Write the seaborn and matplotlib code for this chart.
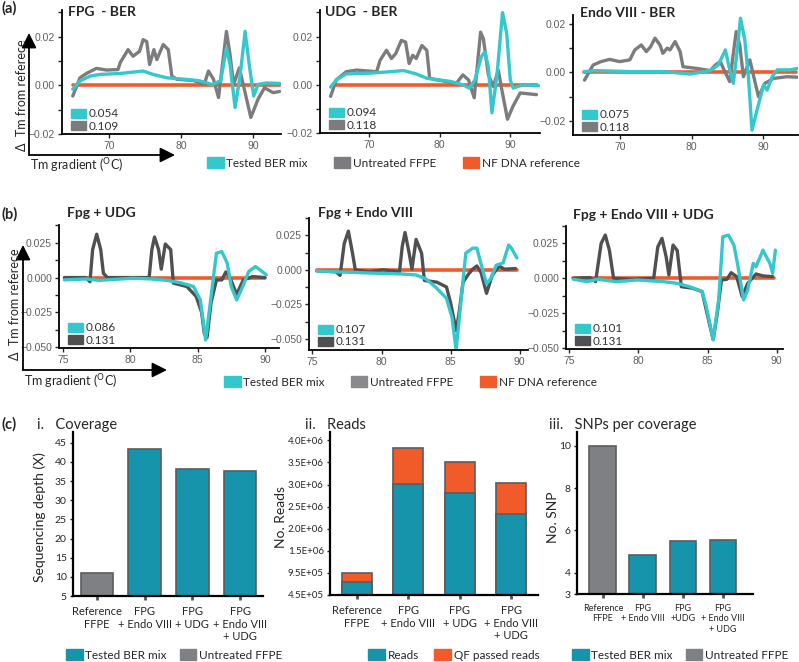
import matplotlib
matplotlib.use("Agg")
from matplotlib import pyplot as plt
from matplotlib.patches import Patch, FancyArrowPatch
import seaborn as sns

# ---- (a) single enzyme melt curves: delta Tm from NF reference ----
fpg_ffpe_x = [64.9, 65.9, 66.8, 68.2, 69.6, 71.2, 71.5, 72.6, 73.3, 74.2, 74.7, 75.2, 75.6, 76.2, 76.6, 77.5, 78.2, 78.7,
              79.4, 81.7, 82.6, 83.2, 83.8, 84.5, 85.2, 86.3, 86.8, 87.3, 88.1, 88.9, 89.7, 90.7, 91.6, 92.8, 93.7]
fpg_ffpe_y = [-0.0044, 0.0031, 0.0049, 0.0070, 0.0063, 0.0065, 0.0093, 0.0147, 0.0120, 0.0140, 0.0188, 0.0180, 0.0086,
              0.0147, 0.0106, 0.0168, 0.0147, 0.0038, 0.0025, 0.0020, 0.0011, 0.0004, 0.0059, 0.0025, -0.0050, 0.0222,
              0.0127, 0.0004, 0.0072, -0.0030, -0.0132, -0.0057, -0.0010, -0.0030, -0.0025]
fpg_ber_x = [64.9, 65.9, 67.3, 68.7, 71.5, 74.7, 76.1, 78.0, 80.6, 82.5, 84.3, 85.5, 86.3, 86.8, 87.5, 88.2, 88.9, 89.5,
             90.1, 90.7, 91.9, 93.7]
fpg_ber_y = [-0.0016, 0.0018, 0.0038, 0.0045, 0.0049, 0.0059, 0.0045, 0.0031, 0.0025, 0.0019, 0.0004, 0.0019, 0.0154,
             0.0086, -0.0091, 0.0038, 0.0222, 0.0079, -0.0044, 0.0004, 0.0010, 0.0008]

udg_ffpe_x = [64.6, 65.4, 66.8, 68.3, 71.1, 71.6, 72.5, 73.2, 73.8, 74.6, 75.2, 75.7, 76.2, 76.7, 77.5, 78.2, 78.6, 79.6,
              82.4, 83.3, 84.1, 84.9, 85.8, 86.2, 86.9, 87.6, 88.3, 88.8, 89.6, 90.4, 91.4, 93.7]
udg_ffpe_y = [-0.0048, 0.0020, 0.0054, 0.0061, 0.0054, 0.0102, 0.0143, 0.0109, 0.0129, 0.0184, 0.0177, 0.0088, 0.0122,
              0.0109, 0.0163, 0.0143, 0.0027, 0.0020, 0.0007, 0.0041, 0.0020, -0.0054, 0.0218, 0.0190, 0.0041, -0.0007,
              0.0061, -0.0020, -0.0143, -0.0088, -0.0034, -0.0041]
udg_ber_x = [64.6, 65.4, 66.8, 70.1, 73.0, 74.9, 76.7, 78.2, 81.5, 83.3, 84.2, 85.0, 85.9, 86.4, 86.9, 87.4, 88.1, 88.9,
             89.5, 90.0, 90.4, 91.8, 94.0]
udg_ber_y = [-0.0010, 0.0020, 0.0045, 0.0048, 0.0054, 0.0059, 0.0045, 0.0027, 0.0014, 0.0000, -0.0014, 0.0020, 0.0116,
             0.0136, 0.0075, -0.0116, 0.0034, 0.0299, 0.0211, 0.0020, -0.0014, 0.0000, -0.0004]

endo_ffpe_x = [65.1, 66.3, 67.4, 68.6, 70.0, 71.4, 72.1, 73.0, 73.7, 74.3, 74.9, 75.6, 76.0, 76.6, 77.0, 77.7, 78.4,
               78.8, 80.7, 82.6, 83.3, 84.0, 84.5, 85.3, 86.2, 86.7, 87.2, 88.1, 89.3, 90.2, 91.4, 93.3, 94.7]
endo_ffpe_y = [-0.0032, 0.0030, 0.0044, 0.0053, 0.0044, 0.0051, 0.0092, 0.0112, 0.0085, 0.0105, 0.0140, 0.0112, 0.0078,
               0.0099, 0.0092, 0.0126, 0.0085, 0.0023, 0.0016, 0.0007, 0.0030, 0.0044, 0.0010, -0.0038, 0.0167, 0.0112,
               -0.0018, 0.0051, -0.0100, -0.0045, -0.0025, -0.0018, -0.0020]
endo_ber_x = [65.1, 66.7, 71.4, 76.0, 79.8, 82.6, 83.7, 84.7, 85.2, 85.8, 86.3, 86.8, 87.4, 87.9, 88.4, 89.1, 90.0, 90.5,
              91.2, 91.9, 93.7, 94.7]
endo_ber_y = [0.0003, 0.0007, 0.0003, 0.0003, -0.0007, 0.0007, 0.0030, 0.0092, 0.0023, -0.0045, 0.0078, 0.0222, 0.0133,
              -0.0018, -0.0237, -0.0155, -0.0052, -0.0073, -0.0018, 0.0010, 0.0010, 0.0016]

# ---- (b) enzyme combinations ----
fu_ffpe_x = [75.1, 76.7, 77.0, 77.2, 77.5, 77.8, 78.0, 78.3, 80.2, 81.4, 81.6, 81.8, 82.1, 82.3, 82.6, 83.0, 83.2, 84.2,
             84.9, 85.3, 85.5, 85.7, 86.0, 86.4, 86.8, 87.1, 87.4, 87.9, 88.4, 89.1, 90.0]
fu_ffpe_y = [0.0, 0.0, -0.003, 0.020, 0.031, 0.020, 0.003, 0.0, 0.0, 0.0, 0.020, 0.029, 0.020, 0.006, 0.024, 0.020,
             -0.004, -0.0064, -0.0136, -0.025, -0.040, -0.043, -0.018, -0.0017, -0.0017, 0.004, 0.0, -0.012, -0.0017,
             0.0007, 0.0]
fu_ber_x = [75.1, 76.7, 77.7, 80.2, 81.5, 82.7, 83.7, 84.7, 85.2, 85.6, 86.0, 86.4, 86.8, 87.2, 87.5, 87.9, 88.3, 88.8,
            89.3, 89.8, 90.1]
fu_ber_y = [-0.0017, -0.0010, -0.0020, -0.0005, -0.0010, -0.0020, -0.0036, -0.0064, -0.0160, -0.0447, -0.0136, 0.0174,
            0.0186, 0.0103, -0.0064, -0.0160, -0.0076, 0.0043, 0.0079, 0.0043, 0.0020]

fe_ffpe_x = [75.3, 76.7, 77.0, 77.3, 77.6, 77.9, 78.1, 79.1, 80.1, 81.3, 81.5, 81.7, 82.0, 82.2, 82.5, 82.9, 83.1, 84.0,
             84.7, 85.0, 85.4, 85.6, 85.9, 86.3, 86.6, 86.9, 87.2, 87.6, 88.0, 88.5, 88.9, 89.7]
fe_ffpe_y = [-0.0007, -0.0014, -0.0040, 0.0190, 0.0280, 0.0120, 0.0000, -0.0014, 0.0000, -0.0014, 0.0170, 0.0270, 0.0120,
             0.0005, 0.0220, 0.0120, -0.0077, -0.0089, -0.0124, -0.0240, -0.0440, -0.0320, -0.0089, -0.0030, 0.0005,
             0.0028, -0.0019, -0.0170, -0.0042, 0.0028, 0.0005, 0.0009]
fe_ber_x = [75.3, 76.7, 79.1, 81.5, 82.5, 83.2, 83.9, 84.7, 85.1, 85.4, 85.7, 86.1, 86.6, 86.9, 87.3, 87.6, 87.9, 88.3,
            88.8, 89.2, 89.4, 89.8]
fe_ber_y = [-0.0007, -0.0014, -0.0023, -0.0030, -0.0037, -0.0065, -0.0124, -0.0206, -0.0346, -0.0580, -0.0276, 0.0121,
            0.0157, 0.0157, 0.0005, -0.0100, -0.0065, 0.0033, 0.0051, 0.0180, 0.0157, 0.0086]

feu_ffpe_x = [75.3, 76.5, 76.9, 77.3, 77.6, 77.9, 78.2, 79.4, 81.1, 81.4, 81.7, 82.0, 82.2, 82.5, 82.8, 83.1, 83.9, 84.6,
              84.9, 85.4, 85.7, 86.0, 86.4, 86.7, 87.1, 87.5, 87.9, 88.5, 89.0, 89.7]
feu_ffpe_y = [0.0000, 0.0005, -0.0024, 0.0250, 0.0310, 0.0200, 0.0000, -0.0007, 0.0000, 0.0226, 0.0286, 0.0155, 0.0024,
              0.0238, 0.0200, -0.0060, -0.0071, -0.0095, -0.0226, -0.0440, -0.0250, -0.0012, -0.0007, 0.0040, 0.0012,
              -0.0131, -0.0036, 0.0031, 0.0017, 0.0012]
feu_ber_x = [75.3, 76.3, 77.0, 78.4, 79.9, 81.8, 82.8, 83.7, 84.6, 84.9, 85.4, 85.8, 86.1, 86.5, 86.9, 87.2, 87.6, 87.9,
             88.3, 88.5, 89.0, 89.5, 89.7, 89.9]
feu_ber_y = [-0.0007, -0.0024, -0.0007, -0.0024, -0.0012, -0.0024, -0.0036, -0.0060, -0.0095, -0.0200, -0.0440, -0.0155,
             0.0298, 0.0310, 0.0238, 0.0083, -0.0155, -0.0083, 0.0107, 0.0083, 0.0202, 0.0107, 0.0036, 0.0202]

# ---- (c) sequencing summary ----
cats_c1 = ["Reference\nFFPE", "FPG\n+ Endo VIII", "FPG\n+ UDG", "FPG\n+ Endo VIII\n+ UDG"]
cats_c3 = ["Reference\nFFPE", "FPG\n+ Endo VIII", "FPG\n+UDG", "FPG\n+ Endo VIII\n+ UDG"]
coverage = [11.1, 43.4, 38.2, 37.5]
reads = [7.4e5, 2.97e6, 2.76e6, 2.29e6]
qf_passed = [2.16e5, 8.1e5, 7.1e5, 6.9e5]
snp_per_cov = [10.0, 4.85, 5.52, 5.55]
reads_ticks = [4.5e5, 9.5e5, 1.45e6, 1.95e6, 2.45e6, 2.95e6, 3.45e6, 3.95e6]
reads_ticklabels = ["4.5E+05", "9.5E+05", "1.5E+06", "2.0E+06", "2.5E+06", "3.0E+06", "3.5E+06", "4.0E+06"]

CYAN = "#34c8cc"
GRAY_A = "#7c7c7e"
GRAY_B = "#505052"
ORANGE = "#f15a29"
TEAL = "#1694ab"
BARGRAY = "#7f8083"
EDGE = "#5c5c5e"

W, H = 799, 662
sns.set_style("ticks")
plt.rcParams["font.family"] = ["Lato", "DejaVu Sans"]

fig = plt.figure(figsize=(W / 100, H / 100), dpi=100)


def fx(x):
    return x / W


def fy(y):
    return 1 - y / H


def px_axes(left, top, right, bottom):
    return fig.add_axes([left / W, 1 - bottom / H, (right - left) / W, (bottom - top) / H])


def melt_panel(box, title, tpos, ffpe, ber, ref_x, gray, vals, xlim, ylim, xticks, yticks, yminor, yfmt):
    ax = px_axes(*box)
    sns.lineplot(x=ref_x, y=[0, 0], ax=ax, color=ORANGE, lw=2.6, estimator=None)
    sns.lineplot(x=ffpe[0], y=ffpe[1], ax=ax, color=gray, lw=2.4, estimator=None)
    sns.lineplot(x=ber[0], y=ber[1], ax=ax, color=CYAN, lw=2.4, estimator=None)
    ax.set_xlim(*xlim)
    ax.set_ylim(*ylim)
    ax.set_xticks(xticks)
    ax.set_yticks(yticks)
    ax.set_yticks(yminor, minor=True)
    ax.set_yticklabels([yfmt.format(v).replace("-", "\u2212") for v in yticks])
    sns.despine(ax=ax)
    for s in ["left", "bottom"]:
        ax.spines[s].set_linewidth(1.3)
        ax.spines[s].set_color("black")
    ax.tick_params(which="both", length=3, width=1, labelsize=7.5, labelcolor="#606060", pad=2)
    for lab in ax.get_xticklabels() + ax.get_yticklabels():
        lab.set_family("Liberation Sans")
    ax.set_xlabel("")
    ax.set_ylabel("")
    ax.legend(handles=[Patch(color=CYAN, label=vals[0]), Patch(color=gray, label=vals[1])],
              loc="lower left", bbox_to_anchor=(0.04, 0.02), frameon=False, fontsize=8.5,
              handlelength=1.3, handleheight=0.8, handletextpad=0.2, labelspacing=0.1,
              borderpad=0, borderaxespad=0, labelcolor="#333333")
    fig.text(fx(tpos[0]), fy(tpos[1]), title, fontsize=10, fontweight="bold", ha="left", va="center")
    return ax


def axis_arrows(cx, cy, top, right, lab_x, lab_y, grad_y):
    for end in [(cx, top), (right, cy)]:
        fig.add_artist(FancyArrowPatch((fx(cx), fy(cy)), (fx(end[0]), fy(end[1])), transform=fig.transFigure,
                                       arrowstyle="-|>,head_length=0.6,head_width=0.3", mutation_scale=15,
                                       lw=1.3, color="black", shrinkA=0, shrinkB=0))
    fig.text(fx(lab_x), fy(lab_y), "\u0394  Tm from referece", rotation=90, fontsize=9, ha="center", va="center")
    fig.text(fx(cx + 1), fy(grad_y), "Tm gradient ($^{\\mathrm{O}}$C)", fontsize=9, ha="left", va="center")


def bottom_legend(x, y, handles, spacing, size=8.5):
    fig.legend(handles=handles, loc="center left", bbox_to_anchor=(fx(x), fy(y)), ncol=len(handles),
               frameon=False, fontsize=size, handlelength=1.4, handleheight=1.1, handletextpad=0.25,
               columnspacing=spacing, borderpad=0, borderaxespad=0)


# row (a)
fig.text(fx(2), fy(8), "(a)", fontsize=10.5, fontweight="bold", va="center")
yt_a = [-0.02, 0.0, 0.02]
ym_a = [-0.01, 0.01, 0.03]
melt_panel((62, 10, 281, 134), "FPG  - BER", (68, 12), (fpg_ffpe_x, fpg_ffpe_y), (fpg_ber_x, fpg_ber_y),
           [65, 93.7], GRAY_A, ["0.054", "0.109"], (63.4, 93.9), (-0.02, 0.031), [70, 80, 90], yt_a, ym_a, "{:.2f}")
melt_panel((320, 10, 540, 133), "UDG  - BER", (325, 12), (udg_ffpe_x, udg_ffpe_y), (udg_ber_x, udg_ber_y),
           [65, 93.8], GRAY_A, ["0.094", "0.118"], (63.1, 94.2), (-0.02, 0.031), [70, 80, 90], yt_a, ym_a, "{:.2f}")
melt_panel((573, 15, 798, 135), "Endo VIII - BER", (580, 13), (endo_ffpe_x, endo_ffpe_y), (endo_ber_x, endo_ber_y),
           [65, 94.5], GRAY_A, ["0.075", "0.118"], (63.5, 94.8), (-0.0257, 0.0235), [70, 80, 90], yt_a,
           [-0.01, 0.01], "{:.2f}")
axis_arrows(29, 155, 33, 175, 22, 95, 166)
bottom_legend(207, 163, [Patch(color=CYAN, label="Tested BER mix"), Patch(color=GRAY_A, label="Untreated FFPE"),
                         Patch(color=ORANGE, label="NF DNA reference")], 2.2)

# row (b)
fig.text(fx(2), fy(214), "(b)", fontsize=10.5, fontweight="bold", va="center")
yt_b = [-0.05, -0.025, 0.0, 0.025]
ym_b = [-0.0375, -0.0125, 0.0125, 0.0375]
melt_panel((59, 225, 279, 348), "Fpg + UDG", (67, 213), (fu_ffpe_x, fu_ffpe_y), (fu_ber_x, fu_ber_y),
           [75.3, 90], GRAY_B, ["0.086", "0.131"], (74.7, 91.05), (-0.0504, 0.0376), [75, 80, 85, 90], yt_b, ym_b,
           "{:.3f}")
melt_panel((309, 218, 528, 350), "Fpg + Endo VIII", (318, 213), (fe_ffpe_x, fe_ffpe_y), (fe_ber_x, fe_ber_y),
           [75.3, 89.8], GRAY_B, ["0.107", "0.131"], (74.75, 90.6), (-0.058, 0.0345), [75, 80, 85, 90], yt_b, ym_b,
           "{:.3f}")
melt_panel((566, 226, 783, 349), "Fpg + Endo VIII + UDG", (573, 215), (feu_ffpe_x, feu_ffpe_y),
           (feu_ber_x, feu_ber_y), [75.3, 89.8], GRAY_B, ["0.101", "0.131"], (74.76, 90.45), (-0.0507, 0.0374),
           [75, 80, 85, 90], yt_b, ym_b, "{:.3f}")
axis_arrows(23, 370, 245, 167, 15, 304, 382)
bottom_legend(224, 382, [Patch(color=CYAN, label="Tested BER mix"), Patch(color="#8a8a8c", label="Untreated FFPE"),
                         Patch(color=ORANGE, label="NF DNA reference")], 2.2)


# row (c)
def bar_style(ax, ylim, yticks, yticklabels, xlim, ylabel, ylab_x, xsize=8):
    ax.set_ylim(*ylim)
    ax.set_xlim(*xlim)
    ax.set_yticks(yticks)
    ax.set_yticklabels(yticklabels)
    sns.despine(ax=ax)
    for s in ["left", "bottom"]:
        ax.spines[s].set_linewidth(1.6)
        ax.spines[s].set_color("black")
    ax.tick_params(axis="y", length=2.5, width=1, labelsize=7.5, pad=2)
    ax.tick_params(axis="x", length=3, width=2, color="#555555", labelsize=xsize, pad=4)
    ax.set_xlabel("")
    ax.set_ylabel("")
    fig.text(fx(ylab_x), fy(517), ylabel, rotation=90, fontsize=10, ha="center", va="center")


fig.text(fx(2), fy(424), "(c)", fontsize=10.5, fontweight="bold", va="center")
fig.text(fx(37), fy(425), "i.   Coverage", fontsize=10.5, va="center")
fig.text(fx(305), fy(425), "ii.   Reads", fontsize=10.5, va="center")
fig.text(fx(549), fy(425), "iii.   SNPs per coverage", fontsize=10.5, va="center")

ax = px_axes(73, 432, 263, 596)
sns.barplot(x=cats_c1, y=coverage, hue=cats_c1, palette=[BARGRAY, TEAL, TEAL, TEAL], legend=False, width=0.68,
            saturation=1, edgecolor=EDGE, linewidth=1.2, errorbar=None, ax=ax)
bar_style(ax, (5, 47.8), list(range(5, 50, 5)), [str(v) for v in range(5, 50, 5)], (-0.5, 3.48),
          "Sequencing depth (X)", 40)

ax = px_axes(330, 432, 538, 595)
reads_top = [r + q for r, q in zip(reads, qf_passed)]
sns.barplot(x=cats_c1, y=reads_top, color=ORANGE, width=0.58, saturation=1, edgecolor=EDGE, linewidth=1.2,
            errorbar=None, ax=ax)
sns.barplot(x=cats_c1, y=reads, color=TEAL, width=0.58, saturation=1, edgecolor=EDGE, linewidth=1.2,
            errorbar=None, ax=ax)
bar_style(ax, (4.5e5, 4.14e6), reads_ticks, reads_ticklabels, (-0.52, 3.52), "No. Reads", 281)
ax.tick_params(axis="y", labelsize=7)

ax = px_axes(577, 432, 753, 594)
sns.barplot(x=cats_c3, y=snp_per_cov, hue=cats_c3, palette=[BARGRAY, TEAL, TEAL, TEAL], legend=False, width=0.67,
            saturation=1, edgecolor=EDGE, linewidth=1.2, errorbar=None, ax=ax)
bar_style(ax, (3, 10.65), [3, 4, 6, 8, 10], ["3", "4", "6", "8", "10"], (-0.645, 3.75), "No. SNP", 553, xsize=6.5)

bottom_legend(66, 655, [Patch(color=TEAL, label="Tested BER mix"), Patch(color=BARGRAY, label="Untreated FFPE")], 1.1)
bottom_legend(368, 655, [Patch(color=TEAL, label="Reads"), Patch(color=ORANGE, label="QF passed reads")], 1.3)
bottom_legend(572, 655, [Patch(color=TEAL, label="Tested BER mix"), Patch(color=BARGRAY, label="Untreated FFPE")], 1.1)

fig.savefig("out.png", dpi=100)
